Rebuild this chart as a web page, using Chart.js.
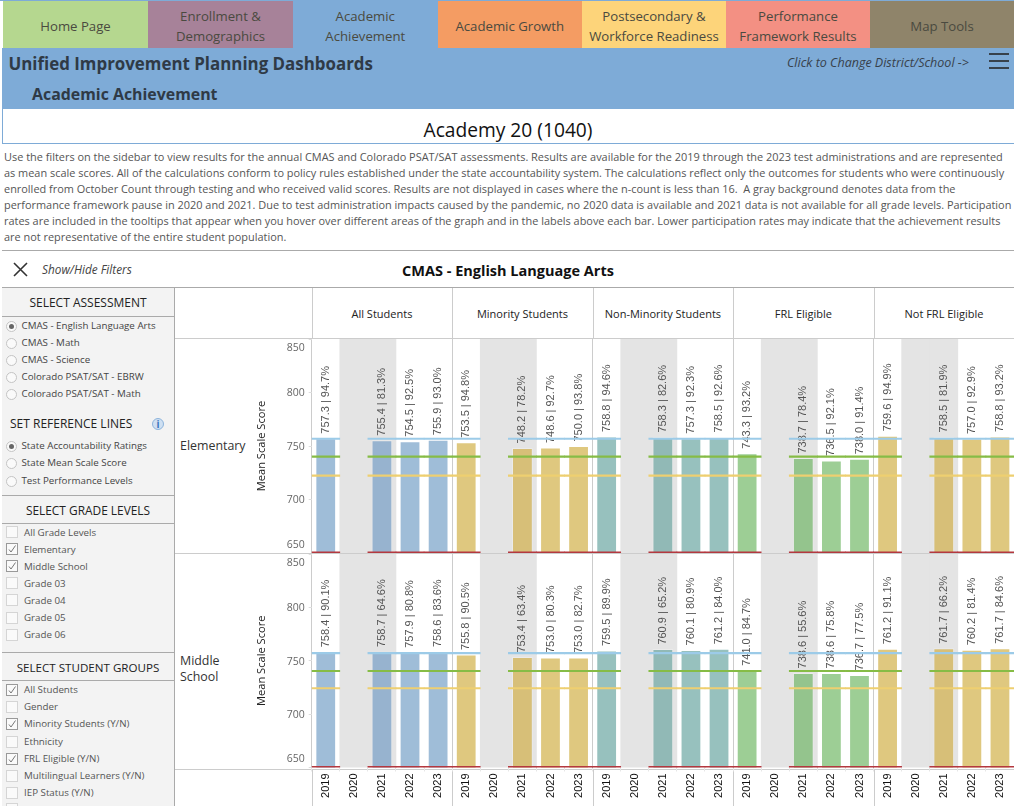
<!DOCTYPE html>
<html><head><meta charset="utf-8">
<script src="https://cdn.jsdelivr.net/npm/chart.js@4"></script>
<style>
html,body{margin:0;padding:0;background:#fff;overflow:hidden}
#page{position:relative;width:1014px;height:806px;overflow:hidden;font-family:"Open Sans",sans-serif;color:#333}
.a{position:absolute;white-space:pre}
.tab{position:absolute;top:1px;height:47px;padding-top:3px;box-sizing:border-box;display:flex;align-items:center;justify-content:center;text-align:center;font-size:13.2px;line-height:20px;color:#4a4a40}
canvas{position:absolute;display:block}
</style></head><body><div id="page"></div>
<script>
// ---------- chart data ----------
const years = ['2019','2020','2021','2022','2023'];
const groupNames = ['All Students','Minority Students','Non-Minority Students','FRL Eligible','Not FRL Eligible'];
const grayYears = ['2020','2021'];
const tickValues = [650,700,750,800,850];

const elemAll         = [757.3,null,755.4,754.5,755.9];
const elemMinority    = [753.5,null,748.2,748.6,750.0];
const elemNonMinority = [758.8,null,758.3,757.3,758.5];
const elemFrl         = [743.3,null,738.7,736.5,738.0];
const elemNotFrl      = [759.6,null,758.5,757.0,758.8];
const elemAllPart         = [94.7,null,81.3,92.5,93.0];
const elemMinorityPart    = [94.8,null,78.2,92.7,93.8];
const elemNonMinorityPart = [94.6,null,82.6,92.3,92.6];
const elemFrlPart         = [93.2,null,78.4,92.1,91.4];
const elemNotFrlPart      = [94.9,null,81.9,92.9,93.2];

const midAll         = [758.4,null,758.7,757.9,758.6];
const midMinority    = [755.8,null,753.4,753.0,753.0];
const midNonMinority = [759.5,null,760.9,760.1,761.2];
const midFrl         = [741.0,null,738.6,738.6,736.7];
const midNotFrl      = [761.2,null,761.7,760.2,761.7];
const midAllPart         = [90.1,null,64.6,80.8,83.6];
const midMinorityPart    = [90.5,null,63.4,80.3,82.7];
const midNonMinorityPart = [89.9,null,65.2,80.9,84.0];
const midFrlPart         = [84.7,null,55.6,75.8,77.5];
const midNotFrlPart      = [91.1,null,66.2,81.4,84.6];

// reference lines: exceeds / meets / approaches / floor
const elemRefLevels = [756.8,740.0,722.3,650.4];
const midRefLevels  = [757.2,740.4,724.2,650.4];
const refColors = ['#9ccbe8','#86bc46','#eecf70','#b4383f'];

const groupColors   = ['#9fbdd8','#dfc87f','#97c1be','#9dce95','#dfc87f'];
const group21Colors = ['#97b3cf','#d7bf78','#91b9b6','#94c48d','#d7bf78'];

// ---------- page text ----------
const tabs = [
 ['Home Page',3,145,'#b5d78f'],['Enrollment &<br>Demographics',148,145,'#a78299'],
 ['Academic<br>Achievement',293,144.5,'#7eabd7'],['Academic Growth',437.5,144.5,'#f49c63'],
 ['Postsecondary &<br>Workforce Readiness',582,144,'#fdd47a'],['Performance<br>Framework Results',726,144,'#f39083'],
 ['Map Tools',870,144,'#8f846a']];
const intro = [
 'Use the filters on the sidebar to view results for the annual CMAS and Colorado PSAT/SAT assessments. Results are available for the 2019 through the 2023 test administrations and are represented',
 'as mean scale scores. All of the calculations conform to policy rules established under the state accountability system. The calculations reflect only the outcomes for students who were continuously',
 'enrolled from October Count through testing and who received valid scores. Results are not displayed in cases where the n-count is less than 16.  A gray background denotes data from the',
 'performance framework pause in 2020 and 2021. Due to test administration impacts caused by the pandemic, no 2020 data is available and 2021 data is not available for all grade levels. Participation',
 'rates are included in the tooltips that appear when you hover over different areas of the graph and in the labels above each bar. Lower participation rates may indicate that the achievement results',
 'are not representative of the entire student population.'];
const assessments = ['CMAS - English Language Arts','CMAS - Math','CMAS - Science','Colorado PSAT/SAT - EBRW','Colorado PSAT/SAT - Math'];
const refChoices  = ['State Accountability Ratings','State Mean Scale Score','Test Performance Levels'];
const gradeItems  = [['All Grade Levels',0],['Elementary',1],['Middle School',1],['Grade 03',0],['Grade 04',0],['Grade 05',0],['Grade 06',0]];
const studentItems= [['All Students',1],['Gender',0],['Minority Students (Y/N)',1],['Ethnicity',0],['FRL Eligible (Y/N)',1],['Multilingual Learners (Y/N)',0],['IEP Status (Y/N)',0]];

// ---------- page builder ----------
const page = document.getElementById('page');
function box(x,y,w,h,bg,cls){const d=document.createElement('div');d.className=cls||'a';d.style.cssText+=`left:${x}px;top:${y}px;width:${w}px;height:${h}px;background:${bg}`;page.appendChild(d);return d;}
function text(s,x,cy,size,color,extra){const d=document.createElement('div');d.className='a';d.innerHTML=s;d.style.cssText+=`left:${x}px;top:${cy-12}px;line-height:24px;font-size:${size}px;color:${color};${extra||''}`;page.appendChild(d);return d;}
function ctext(s,cx,cy,size,color,extra){return text(s,cx,cy,size,color,'transform:translateX(-50%);'+(extra||''));}
function svg(x,y,w,h,inner){const s=document.createElementNS('http://www.w3.org/2000/svg','svg');s.setAttribute('width',w);s.setAttribute('height',h);s.style.cssText=`position:absolute;left:${x}px;top:${y}px`;s.innerHTML=inner;page.appendChild(s);}

box(0,0,1014,1,'#7eabd7');
tabs.forEach(t=>{const d=box(t[1],1,t[2],47,t[3],'tab');d.innerHTML=t[0];});
box(2,48,1012,61,'#7eabd7');
text('Unified Improvement Planning Dashboards',8.5,64,16.9,'#2f3a46','font-weight:700');
text('Academic Achievement',32,94,15.9,'#2f3a46','font-weight:700');
text('Click to Change District/School -&gt;',787,62.5,12.5,'#37414b','font-style:italic');
[53,60,67].forEach(y=>box(989,y,20,2,'#37414b'));
box(2,109,1,35,'#7eabd7');box(2,143,1012,1,'#7eabd7');
ctext('Academy 20 (1040)',508,129.5,19.2,'#111');
intro.forEach((s,i)=>text(s,4,157+16*i,10.93,'#555'));
box(2,250,1012,1,'#aaa');
svg(12,261,17,17,'<path d="M2 2 L15 15 M15 2 L2 15" stroke="#333" stroke-width="1.6" fill="none"/>');
text('Show/Hide Filters',42,269,11.8,'#444','font-style:italic');
ctext('CMAS - English Language Arts',508,271,14.5,'#111','font-weight:700');
box(2,287,1012,1,'#aaa');

// sidebar
box(2,288,172,518,'#f3f3f3');box(174,288,1,518,'#aaa');
[316,495,523,652,680].forEach(y=>box(2,y,172,1,'#aaa'));
ctext('SELECT ASSESSMENT',88,303,12,'#222');
text('SET REFERENCE LINES',10,424,12,'#222');
ctext('SELECT GRADE LEVELS',88,509.5,11.9,'#222');
ctext('SELECT STUDENT GROUPS',88,668,11.6,'#222');
const info=box(152,418,12,12,'#cfe0f2');info.style.borderRadius='50%';info.style.border='1px solid #8db4dc';info.style.boxSizing='border-box';
ctext('i',158,424,10,'#3a78bd','font-weight:700');
function radio(label,y,on){const r=box(6,y-5.5,11,11,'#fafafa');r.style.cssText+='border-radius:50%;border:1px solid #c4c4c4;box-sizing:border-box';
 if(on){const c=box(9,y-2.5,5,5,'#666');c.style.borderRadius='50%';}
 text(label,21.5,y,9.75,'#444');}
function check(label,y,on){const r=box(6,y-6,12,12,'#fafafa');r.style.cssText+=`border:1px solid ${on?'#999':'#d5d5d5'};box-sizing:border-box`;
 if(on) svg(6,y-6,12,12,'<path d="M3 6.5 L5 9 L9.5 2.5" fill="none" stroke="#777" stroke-width="1"/>');
 text(label,24,y+.5,9.75,'#555');}
assessments.forEach((s,i)=>radio(s,[326,343,360,377,394][i],i===0));
refChoices.forEach((s,i)=>radio(s,[446,463,481][i],i===0));
gradeItems.forEach((s,i)=>check(s[0],532+17.1*i,s[1]));
studentItems.forEach((s,i)=>check(s[0],[689.6,706.6,723.6,741.6,758.6,775.6,792.6][i],s[1]));
check('',809,0);

// crosstab frame
const plotLeft=311.7, groupW=140.5;
[338,553,769].forEach(y=>box(175,y,839,1,'#ccc'));
groupNames.forEach((g,i)=>{
 ctext(g,plotLeft+groupW*(i+.5),314,11,'#222');
 box(plotLeft+groupW*i-.2,288,1,51,'#ccc');
 box(plotLeft+groupW*i-.2,769,1,37,'#ccc');
});
text('Elementary',180,446,12.4,'#333');
text('Middle',180,661,12.4,'#333');
text('School',180,677,12.4,'#333');

// ---------- charts ----------
const catLabels = groupNames.flatMap(()=>years);
const flatGroups = a => a.flat();
const barColors = groupNames.flatMap((g,gi)=>years.map(y=>y==='2021'?group21Colors[gi]:groupColors[gi]));

const valueLabels = {
 id:'valueLabels',
 afterDatasetDraw(chart,args){
  if(args.index!==1) return;
  const c=chart.ctx,xs=chart.scales.x,ys=chart.scales.y,o=chart.options.plugins.valueLabels;
  c.save();c.font='11px "Liberation Sans",Arial,sans-serif';c.fillStyle='#555';c.textAlign='left';c.textBaseline='middle';
  o.scores.forEach((v,i)=>{
   if(v==null) return;
   c.save();c.translate(xs.getPixelForValue(i),ys.getPixelForValue(v)-4.5);c.rotate(-Math.PI/2);
   c.fillText(v.toFixed(1)+' | '+o.part[i].toFixed(1)+'%',0,0);c.restore();
  });
  c.restore();
 }
};
// Tableau pushes the first and last axis label inside the pane
const insetEndTicks = {
 id:'insetEndTicks',
 beforeDraw(chart){
  const s=chart.scales.y,items=s.getLabelItems();
  if(items._inset) return; items._inset=true;
  items.forEach(it=>{
   it.options.translation[1]+=.8;
   if(it.label==='850') it.options.translation[1]+=8;
   if(it.label==='650') it.options.translation[1]-=8.8;
  });
 }
};

function makeChart(top,height,scores,part,refs,bottomAxis){
 const cv=document.createElement('canvas');
 const left=254,w=1014-left;
 cv.width=w;cv.height=height;cv.style.cssText=`left:${left}px;top:${top}px;width:${w}px;height:${height}px`;
 page.appendChild(cv);
 const gray=catLabels.map(y=>grayYears.includes(y)?850:null);
 const refSets=refs.map((lv,k)=>({
  type:'bar',grouped:false,barPercentage:1,categoryPercentage:1,order:1,
  data:catLabels.map(y=>y==='2020'?null:[lv-.7,lv+.7]),
  backgroundColor:refColors[k],borderWidth:0
 }));
 new Chart(cv,{
  type:'bar',
  data:{labels:catLabels,datasets:[
   {data:gray,grouped:false,barPercentage:1,categoryPercentage:1,backgroundColor:'#e4e4e4',borderWidth:0,order:5},
   {data:scores,grouped:false,barPercentage:.74,categoryPercentage:1,backgroundColor:barColors,borderColor:'rgba(255,255,255,.28)',borderWidth:1,order:3},
   ...refSets]},
  plugins:[valueLabels,insetEndTicks],
  options:{
   responsive:false,animation:false,devicePixelRatio:1,
   layout:{autoPadding:false,padding:0},
   plugins:{legend:{display:false},tooltip:{enabled:false},valueLabels:{scores,part}},
   scales:{
    x:{type:'category',offset:true,
     afterFit:s=>{s.height=bottomAxis?height-214:0;s.paddingLeft=0;s.paddingRight=0;},
     grid:{offset:true,drawTicks:bottomAxis,tickLength:4,
      color:c=>c.index%5===0?'#ccc':'transparent',tickColor:'#e6e6e6'},
     border:{display:false},
     ticks:{display:bottomAxis,minRotation:90,maxRotation:90,autoSkip:false,padding:2,color:'#111',
      font:{family:'"Liberation Sans",Arial,sans-serif',size:11}}},
    y:{type:'linear',min:650,max:850,
     afterBuildTicks:s=>{s.ticks=tickValues.map(value=>({value}));},
     afterFit:s=>{s.width=plotLeft-left;s.paddingTop=0;s.paddingBottom=0;},
     title:{display:true,text:'Mean Scale Score',color:'#222',padding:{top:1,bottom:0},
      font:{family:'"Open Sans",sans-serif',size:11.1}},
     grid:{drawOnChartArea:false,tickLength:3,color:'#ddd'},
     border:{display:false},
     ticks:{padding:4,color:'#666',font:{family:'"Open Sans",sans-serif',size:10.5}}}
   }
  }
 });
}
makeChart(339,214,flatGroups([elemAll,elemMinority,elemNonMinority,elemFrl,elemNotFrl]),
 flatGroups([elemAllPart,elemMinorityPart,elemNonMinorityPart,elemFrlPart,elemNotFrlPart]),elemRefLevels,false);
makeChart(553.5,252.5,flatGroups([midAll,midMinority,midNonMinority,midFrl,midNotFrl]),
 flatGroups([midAllPart,midMinorityPart,midNonMinorityPart,midFrlPart,midNotFrlPart]),midRefLevels,true);
</script></body></html>
